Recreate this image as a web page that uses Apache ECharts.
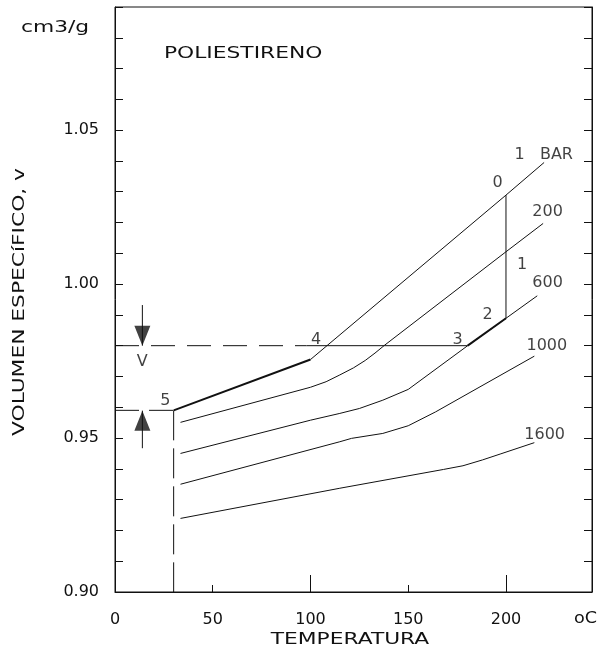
<!DOCTYPE html>
<html>
<head>
<meta charset="utf-8">
<script src="https://cdn.jsdelivr.net/npm/echarts@6/dist/echarts.min.js"></script>
<style>
  html, body { margin: 0; padding: 0; background: #fff; }
  #chart { width: 603px; height: 652px; }
</style>
</head>
<body>
<div id="chart"></div>
<script>
// isobaras del poliestireno, [T oC, v cm3/g]
const bar1 = [[100, 0.9755], [200, 1.0289], [219.5, 1.0395]];
const bar1Glass = [[30, 0.959], [100, 0.9755]];
const bar200 = [[33.5, 0.9551], [100, 0.9665], [108, 0.9683], [115, 0.9705], [122, 0.9728], [128, 0.9752], [133, 0.9776], [138, 0.9802], [200, 1.0105], [219, 1.0197]];
const bar600 = [[33.5, 0.945], [100, 0.9558], [115, 0.958], [125, 0.9596], [137, 0.9623], [150, 0.9658], [180.4, 0.98], [200, 0.9889], [216, 0.9962]];
const bar600Bold = [[180.4, 0.98], [200, 0.9889]];
const bar1000 = [[33.5, 0.935], [115, 0.9488], [121, 0.9499], [137, 0.9515], [150, 0.954], [164, 0.9585], [214.5, 0.9766]];
const bar1600 = [[33.5, 0.9239], [115, 0.9337], [168, 0.9398], [178, 0.941], [188, 0.9429], [197, 0.9448], [214.5, 0.9485]];

// ciclo 0-1-2-3-4-5
const isoT = [[200, 1.0289], [200, 0.9889]];
const isoVDash = [[0, 0.98], [98, 0.98]];
const isoVSolid = [[98, 0.98], [180.4, 0.98]];
const glassH = [[0, 0.959], [30, 0.959]];
const glassV = [[30, 0.959], [30, 0.90]];
const arrowDown = [[14, 0.9932], [14, 0.98]];
const arrowUp = [[14, 0.9589], [14, 0.9467]];

// rotulos [x, y, texto]
const labels = [
  [219.3, 1.043, '1   BAR'],
  [195.7, 1.034, '0'],
  [221.3, 1.0243, '200'],
  [208.2, 1.0072, '1'],
  [221.3, 1.0013, '600'],
  [190.6, 0.991, '2'],
  [175.3, 0.9829, '3'],
  [102.9, 0.9829, '4'],
  [220.9, 0.9809, '1000'],
  [219.8, 0.952, '1600'],
  [25.8, 0.9629, '5'],
  [13.9, 0.9756, 'V']
];

const xLabels = [0, 50, 100, 150, 200];
const xLongTicks = [100, 200];
const xShortTicks = [50, 150];
const yLabels = [0.90, 0.95, 1.00, 1.05];

const FONT = 'DejaVu Sans';
const INK = '#111';
const WIDE = 1.36; // the plotter font is wider than DejaVu

const chart = echarts.init(document.getElementById('chart'));

const line = (data, opts) => Object.assign({
  type: 'line',
  data: data,
  symbol: 'none',
  silent: true,
  animation: false,
  lineStyle: { color: INK, width: 1 }
}, opts || {});

const word = (text, x, y, extra) => Object.assign({
  type: 'text', x: x, y: y, scaleX: WIDE, silent: true,
  style: { text: text, font: '16px ' + FONT, fill: INK, align: 'left', verticalAlign: 'middle' }
}, extra || {});

const option = {
  animation: false,
  grid: { left: 115, right: 11, top: 7, bottom: 60, show: true, borderColor: INK, borderWidth: 1 },
  graphic: [
    word('cm3/g', 21, 28),
    word('POLIESTIRENO', 164, 54),
    word('oC', 574, 619, { scaleX: 1.1 }),
    {
      type: 'text', x: 350, y: 640, scaleX: WIDE, silent: true,
      style: { text: 'TEMPERATURA', font: '16px ' + FONT, fill: INK, align: 'center', verticalAlign: 'middle' }
    },
    {
      type: 'text', x: 20, y: 302, rotation: Math.PI / 2, scaleX: WIDE, silent: true,
      style: { text: 'VOLUMEN ESPECíFICO, v', font: '16px ' + FONT, fill: INK, align: 'center', verticalAlign: 'middle' }
    }
  ],
  xAxis: [
    {
      type: 'value', min: 0, max: 244, interval: 50,
      axisLine: { lineStyle: { color: INK } },
      axisTick: { show: true, inside: true, length: 17, customValues: xLongTicks, lineStyle: { color: INK } },
      axisLabel: { customValues: xLabels, margin: 20, fontFamily: FONT, fontSize: 16, color: INK },
      splitLine: { show: false }
    },
    {
      type: 'value', min: 0, max: 244, position: 'bottom',
      axisLine: { show: false },
      axisTick: { show: true, inside: true, length: 7, customValues: xShortTicks, lineStyle: { color: INK } },
      axisLabel: { show: false },
      splitLine: { show: false }
    }
  ],
  yAxis: [
    {
      type: 'value', min: 0.90, max: 1.09, interval: 0.01,
      axisLine: { show: true, onZero: false, lineStyle: { color: INK } },
      axisTick: { show: true, inside: true, length: 8, lineStyle: { color: INK } },
      axisLabel: { customValues: yLabels, margin: 16, fontFamily: FONT, fontSize: 16, color: INK, formatter: (v) => v.toFixed(2) },
      splitLine: { show: false }
    },
    {
      type: 'value', min: 0.90, max: 1.09, interval: 0.01, position: 'right',
      axisLine: { show: true, onZero: false, lineStyle: { color: INK } },
      axisTick: { show: true, inside: true, length: 8, lineStyle: { color: INK } },
      axisLabel: { show: false },
      splitLine: { show: false }
    }
  ],
  series: [
    line(bar1),
    line(bar1Glass, { lineStyle: { color: INK, width: 2 } }),
    line(bar200),
    line(bar600),
    line(bar600Bold, { lineStyle: { color: INK, width: 2 } }),
    line(bar1000),
    line(bar1600),
    line(isoT),
    line(isoVDash, { lineStyle: { color: INK, width: 1, type: [24, 12] } }),
    line(isoVSolid),
    line(glassH, { lineStyle: { color: INK, width: 1, type: [24, 10] } }),
    line(glassV, { lineStyle: { color: INK, width: 1, type: [30, 8] } }),
    line(arrowDown),
    line(arrowUp),
    {
      type: 'scatter', silent: true, animation: false,
      data: [arrowDown[1]],
      symbol: 'path://M0,0L16,0L8,20Z', symbolSize: [16, 20], symbolOffset: [0, -10],
      itemStyle: { color: INK }
    },
    {
      type: 'scatter', silent: true, animation: false,
      data: [arrowUp[0]],
      symbol: 'path://M8,0L16,20L0,20Z', symbolSize: [16, 20], symbolOffset: [0, 10],
      itemStyle: { color: INK }
    },
    {
      type: 'scatter', silent: true, animation: false,
      data: labels.map((l) => ({ value: [l[0], l[1]], name: l[2] })),
      symbolSize: 0,
      label: {
        show: true, position: 'inside', offset: [0, 3], formatter: (p) => p.name,
        fontFamily: FONT, fontSize: 16, color: INK
      }
    }
  ]
};

chart.setOption(option);
</script>
</body>
</html>
